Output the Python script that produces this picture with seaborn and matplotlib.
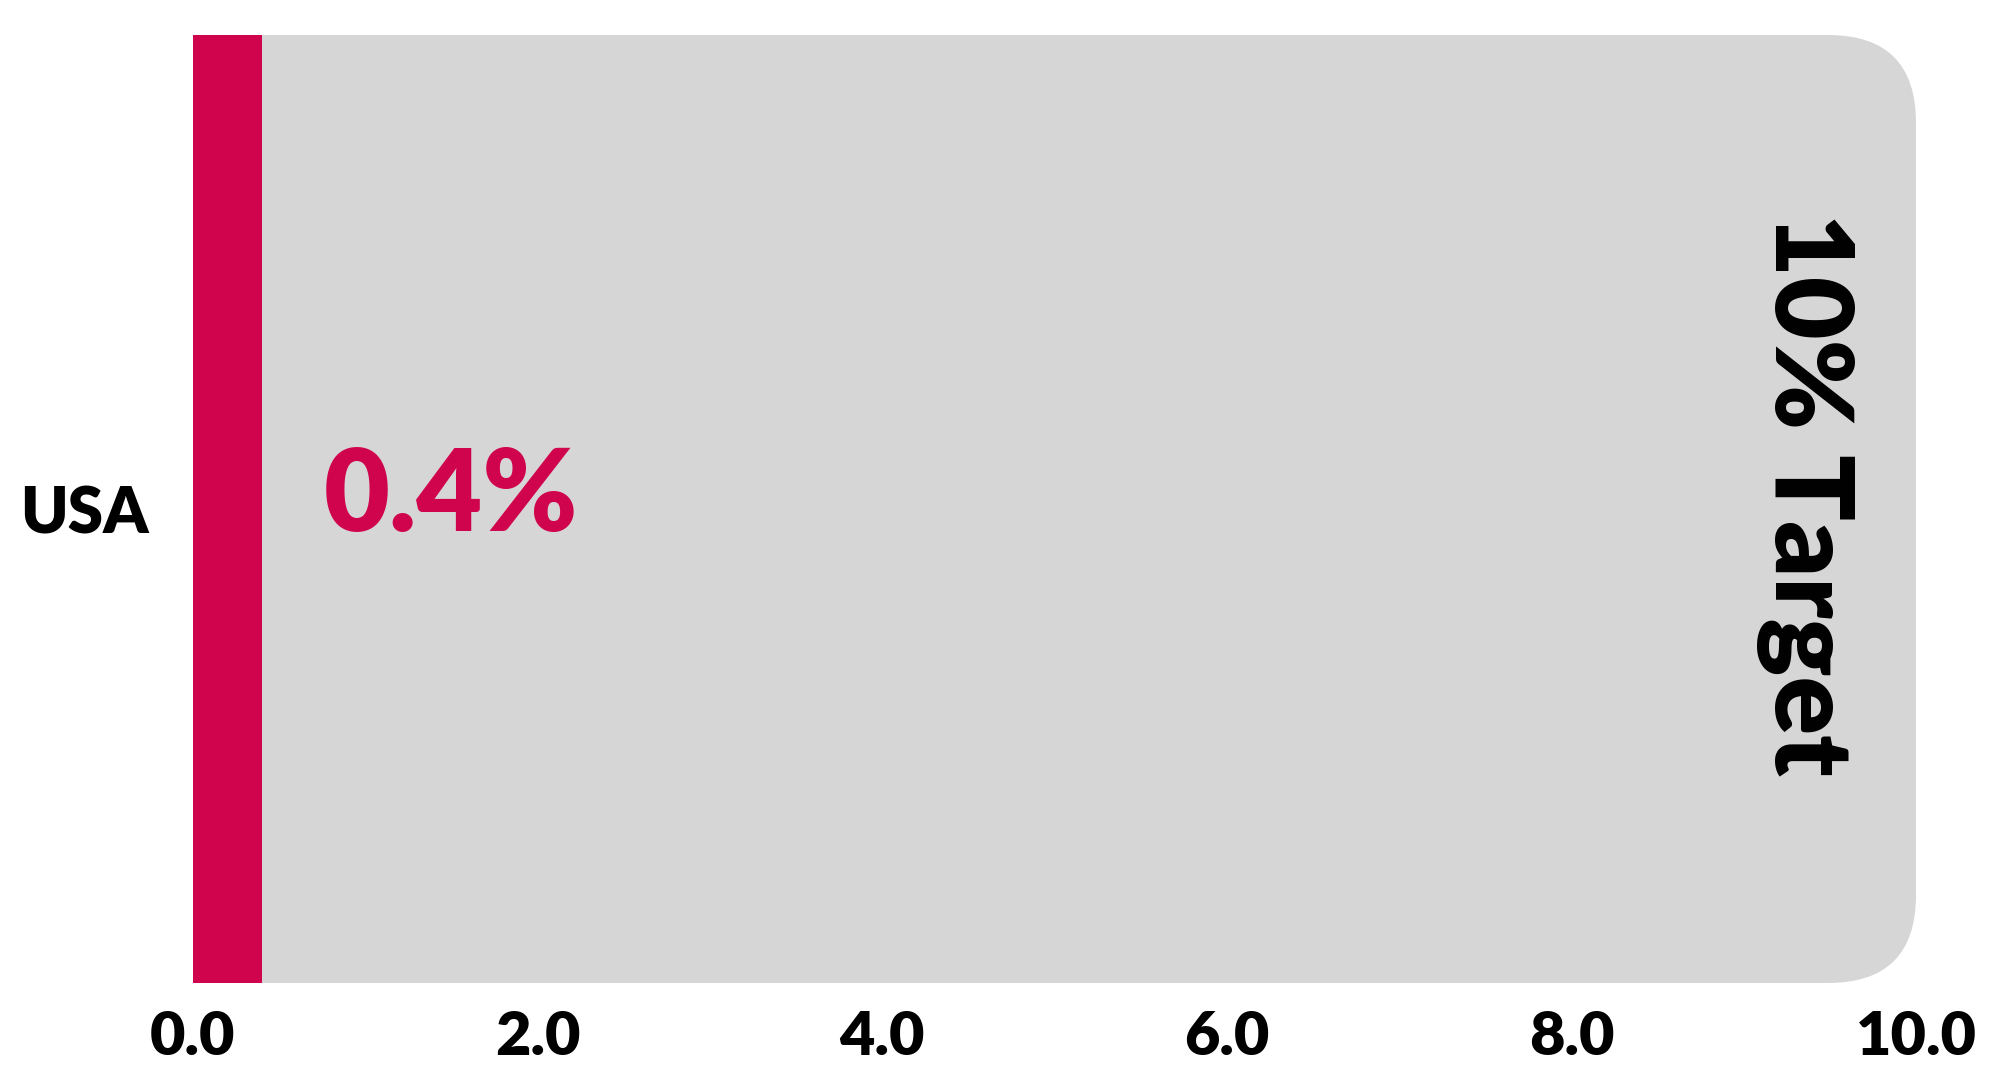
import numpy as np
import matplotlib.pyplot as plt
import seaborn as sns
import pandas as pd
from matplotlib.patches import FancyBboxPatch

# data
countries = ["USA"]
values = [0.4]
target = [10.0]
target_label = "10% Target"
ticks = [0, 2, 4, 6, 8, 10]
tick_labels = ["0.0", "2.0", "4.0", "6.0", "8.0", "10.0"]

red = "#d0044c"
gray = "#d6d6d6"

sns.set_theme(style="white")
plt.rcParams['font.family'] = ['Lato', 'DejaVu Sans']

W, H = 1990, 1067
fig = plt.figure(figsize=(W / 100, H / 100), dpi=100)
ax = fig.add_axes([193 / W, 1 - 983 / H, 1723 / W, 948 / H])

df = pd.DataFrame({"country": countries, "value": values, "target": target})
sns.barplot(data=df, x="target", y="country", color=gray, width=1.0,
            saturation=1, ax=ax)
sns.barplot(data=df, x="value", y="country", color=red, width=1.0,
            saturation=1, ax=ax)

ax.set_xlim(0, 10)
ax.set_ylim(0.5, -0.5)

# round the right-hand corners of the target bar
gbar = ax.patches[0]
r_px = 88
rx = r_px * 10 / 1723
ry = r_px * 1.0 / 948
clip = FancyBboxPatch((gbar.get_x() - 2, gbar.get_y()), gbar.get_width() + 2, gbar.get_height(),
                      boxstyle=f"round,pad=0,rounding_size={rx}",
                      mutation_aspect=ry / rx, transform=ax.transData,
                      facecolor="none", edgecolor="none")
gbar.set_clip_path(clip)
for p in ax.patches:
    p.set_edgecolor("none")

# labels
for i, v in enumerate(values):
    ax.text(v + 0.36, i - 0.012, f"{v:.1f}%", color=red, fontsize=82,
            fontweight="heavy", ha="left", va="center")
ax.text(target[0] - 0.64, -0.015, target_label, rotation=-90, fontsize=78,
        fontweight="heavy", ha="center", va="center", color="black")

ax.set_xticks(ticks)
ax.set_xticklabels(tick_labels, fontsize=44, fontweight="heavy", color="black")
ax.set_yticklabels(countries, fontsize=46, fontweight="heavy", color="black")
ax.tick_params(axis="x", length=0, pad=19)
ax.tick_params(axis="y", length=0, pad=32)
ax.set_xlabel("")
ax.set_ylabel("")
sns.despine(ax=ax, left=True, bottom=True)

fig.savefig("out.png", dpi=100, facecolor="white")
